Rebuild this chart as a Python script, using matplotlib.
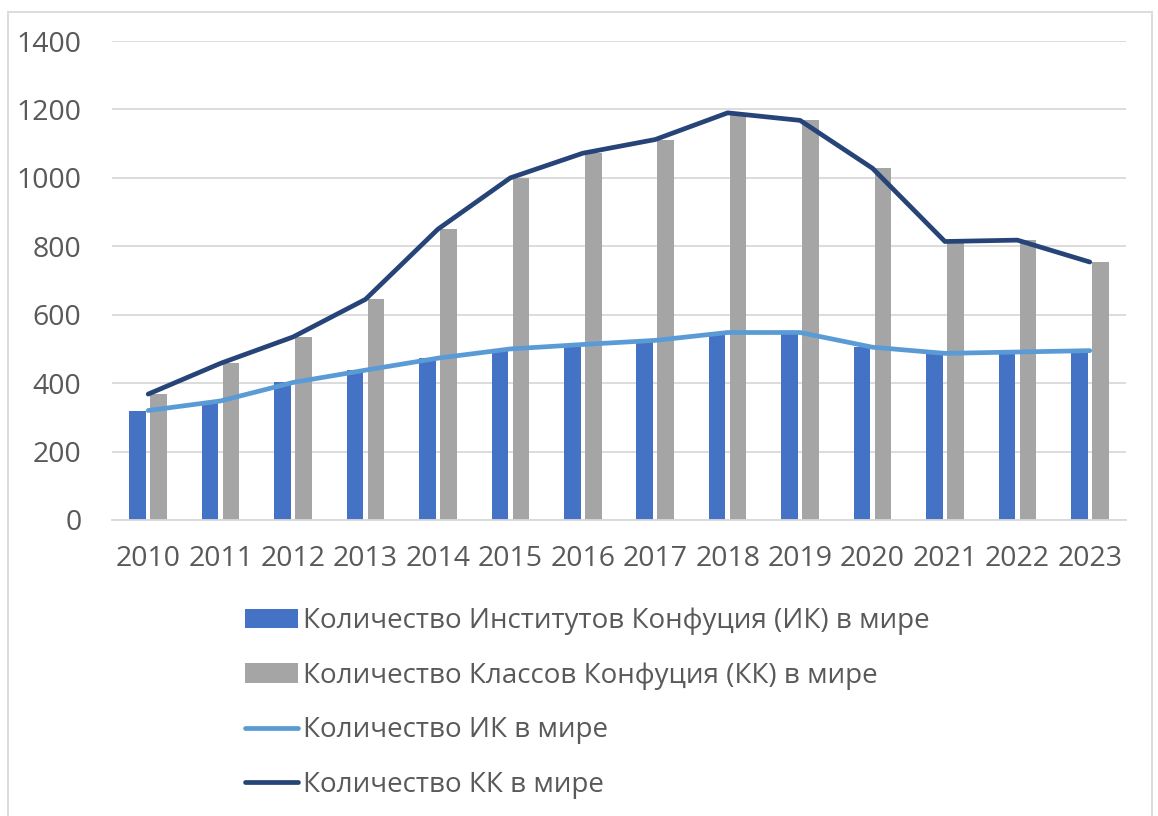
import numpy as np
import matplotlib
matplotlib.use("Agg")
import matplotlib.pyplot as plt
from matplotlib.patches import Rectangle

plt.rcParams['font.family'] = ['Open Sans', 'DejaVu Sans']

# Data
years = ['2010', '2011', '2012', '2013', '2014', '2015', '2016',
         '2017', '2018', '2019', '2020', '2021', '2022', '2023']
ik = [320, 348, 402, 438, 473, 500, 513, 525, 548, 548, 505, 487, 491, 495]
kk = [368, 458, 535, 645, 850, 1000, 1072, 1112, 1190, 1168, 1028, 814, 818, 754]

lbl_ik_bar = "Количество Институтов Конфуция (ИК) в мире"
lbl_kk_bar = "Количество Классов Конфуция (КК) в мире"
lbl_ik_line = "Количество ИК в мире"
lbl_kk_line = "Количество КК в мире"

TXT = "#595959"
GRID = "#D9D9D9"

fig = plt.figure(figsize=(11.58, 8.16), dpi=100)
fig.patches.append(Rectangle((8 / 1158, -0.01), 1144 / 1158, 1 - 12 / 816 + 0.01,
                             transform=fig.transFigure, fill=False,
                             edgecolor=GRID, linewidth=1.3))
ax = fig.add_axes([112 / 1158, 1 - 520 / 816, (1126 - 112) / 1158, (520 - 41) / 816])

x = np.arange(len(years))
w = 0.23
off = 0.145
b1 = ax.bar(x - off, ik, width=w, color="#4472C4", zorder=2)
b2 = ax.bar(x + off, kk, width=w, color="#A5A5A5", zorder=2)
l1, = ax.plot(x, ik, color="#5B9BD5", linewidth=3.4, solid_capstyle="round",
              solid_joinstyle="round", zorder=3)
l2, = ax.plot(x, kk, color="#264478", linewidth=3.4, solid_capstyle="round",
              solid_joinstyle="round", zorder=3)

ax.set_xlim(-0.5, len(years) - 0.5)
ax.set_ylim(0, 1400)
ax.set_yticks(np.arange(0, 1401, 200))
ax.set_xticks(x)
ax.set_xticklabels(years)
ax.yaxis.grid(True, color=GRID, linewidth=1.3, zorder=0)
ax.set_axisbelow(True)
for s in ['top', 'right', 'left']:
    ax.spines[s].set_visible(False)
ax.spines['bottom'].set_color(GRID)
ax.spines['bottom'].set_linewidth(1.3)
ax.tick_params(axis='both', length=0, labelsize=20.5, colors=TXT)
ax.tick_params(axis='y', pad=22)
ax.tick_params(axis='x', pad=18)

fig.legend([b1, b2, l1, l2], [lbl_ik_bar, lbl_kk_bar, lbl_ik_line, lbl_kk_line],
           loc='upper left', bbox_to_anchor=(245 / 1158, 1 - 607 / 816),
           frameon=False, fontsize=20, labelcolor=TXT,
           handlelength=1.9, handletextpad=0.18, labelspacing=0.96,
           borderpad=0, borderaxespad=0)

fig.savefig("out.png", dpi=100)
